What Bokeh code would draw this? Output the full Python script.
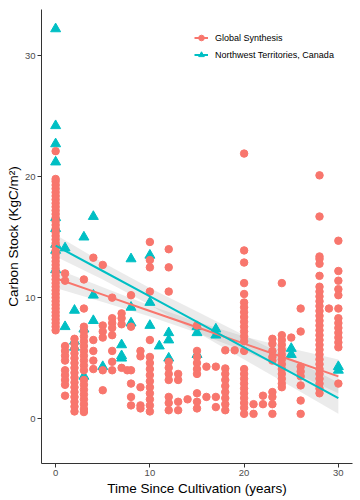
from bokeh.plotting import figure
from bokeh.models import Range1d, Legend, LegendItem, FixedTicker
from bokeh.embed import file_html
from bokeh.resources import INLINE

# ---------------- data ----------------
glob_x = ([0]*44 + [1]*11 + [2]*16 + [3]*20 + [4]*5 + [5]*6 + [6]*8 + [7]*4 + [7.6] +
          [8]*6 + [9]*5 + [10]*15 + [12]*10 + [13]*4 + [14] + [15]*9 + [16]*2 + [17]*3 +
          [18]*9 + [19] + [20]*25 + [21]*2 + [22]*2 + [23]*9 + [24]*13 + [25] + [26]*8 +
          [28]*29 + [29] + [30]*14)
glob_y = [
    # x=0
    7.3, 7.6, 7.9, 8.2, 8.5, 8.8, 9.1, 9.4, 9.7, 10.0, 10.3, 10.6, 10.9, 11.2, 11.5,
    11.8, 12.1, 12.4, 12.7, 13.0, 13.3, 13.6, 13.9, 14.2, 14.5, 14.8, 15.1, 15.4, 15.7,
    16.0, 16.3, 16.6, 16.9, 17.2, 17.5, 17.8, 18.1, 18.4, 18.7, 19.0, 19.3, 19.6, 19.8, 22.1,
    # x=1
    12.0, 11.4, 6.0, 5.6, 5.2, 4.8, 4.0, 3.6, 3.2, 2.8, 1.9,
    # x=2
    6.6, 6.2, 5.8, 5.4, 5.0, 4.6, 4.2, 3.8, 3.4, 3.0, 2.6, 2.2, 1.8, 1.4, 1.0, 0.6,
    # x=3
    11.5, 9.1, 7.6, 7.2, 6.8, 6.4, 6.0, 5.6, 5.2, 4.8, 4.4, 4.0, 3.2, 2.8, 2.4, 2.0,
    1.6, 1.2, 0.8, 0.55,
    # x=4
    13.3, 6.5, 5.6, 4.8, 4.1,
    # x=5
    12.7, 7.7, 7.2, 6.7, 4.0, 2.35,
    # x=6
    10.0, 8.3, 7.9, 7.5, 6.9, 5.6, 4.7, 4.0,
    # x=7, 7.6
    8.7, 8.3, 7.8, 4.2, 4.0,
    # x=8
    10.2, 7.6, 4.0, 2.9, 1.8, 1.1,
    # x=9
    5.6, 5.15, 2.6, 1.1, 0.85,
    # x=10
    14.6, 13.1, 12.5, 10.5, 6.5, 5.1, 4.6, 4.1, 3.6, 3.1, 2.6, 2.1, 1.6, 1.1, 0.6,
    # x=12
    14.0, 12.5, 10.5, 4.7, 4.2, 3.7, 3.2, 1.8, 1.3, 0.7,
    # x=13
    3.7, 3.2, 1.4, 0.7,
    # x=14
    1.6,
    # x=15
    7.7, 5.6, 5.1, 4.6, 4.1, 3.7, 2.1, 1.4, 0.85,
    # x=16
    4.3, 1.8,
    # x=17
    4.3, 1.8, 0.96,
    # x=18
    5.65, 4.15, 3.7, 3.2, 2.7, 2.2, 1.7, 1.2, 0.7,
    # x=19
    5.65,
    # x=20
    21.9, 13.9, 12.9, 11.2, 10.3, 9.6, 9.2, 8.8, 8.4, 8.0, 7.6, 7.2, 6.8, 6.4, 5.6,
    4.1, 3.7, 3.3, 2.9, 2.5, 2.1, 1.7, 1.3, 0.9, 0.4,
    # x=21
    1.2, 0.4,
    # x=22
    1.9, 1.2,
    # x=23
    6.6, 6.2, 5.6, 5.1, 4.8, 2.2, 1.8, 1.2, 0.4,
    # x=24
    11.2, 6.9, 6.5, 6.1, 5.7, 5.3, 4.9, 4.5, 4.1, 3.7, 3.3, 2.9, 2.6,
    # x=25
    6.7,
    # x=26
    9.1, 7.2, 4.3, 3.9, 3.5, 2.75, 1.5, 0.4,
    # x=28
    20.1, 16.7, 13.4, 13.2, 12.8, 11.8, 10.9, 10.5, 10.1, 9.7, 9.3, 8.9, 8.5, 8.1, 7.7,
    7.3, 6.9, 6.5, 6.1, 5.7, 5.3, 4.9, 4.5, 4.1, 3.7, 3.3, 2.9, 2.5, 2.1,
    # x=29
    9.1,
    # x=30
    14.7, 12.2, 11.4, 10.7, 9.1, 8.3, 7.9, 7.5, 7.1, 6.7, 6.3, 5.9, 2.9, 10.2,
]

nwt_x = [0, 0, 0, 0, 0, 0, 0, 0, 0, 1, 1, 2, 2, 2, 3, 3, 3, 4, 4, 4, 5, 7, 7, 7,
         8, 8, 8, 10, 10, 10, 11, 12, 12, 12, 15, 15, 15, 17, 17, 25, 25, 30, 30]
nwt_y = [32.2, 24.2, 22.7, 21.2, 16.6, 15.7, 14.4, 13.9, 12.3, 14.1, 7.6, 8.95, 6.4, 5.9,
         15.0, 7.4, 3.5, 16.7, 10.2, 8.1, 4.3, 6.1, 5.2, 5.0, 13.2, 9.2, 7.9, 13.5, 9.6,
         7.7, 6.0, 7.1, 6.5, 5.0, 7.6, 7.1, 5.3, 7.4, 6.9, 5.8, 5.3, 4.3, 4.0]

# fitted smooths
smooth_x = [0, 5, 10, 15, 20, 25, 30]
glob_fit = [11.6, 10.25, 8.9, 7.55, 6.2, 4.85, 3.5]
glob_hw = [0.8, 0.6, 0.45, 0.45, 0.6, 0.95, 1.4]
nwt_fit = [14.3, 12.2, 10.1, 8.0, 5.9, 3.8, 1.7]
nwt_hw = [0.9, 0.7, 0.7, 0.85, 1.0, 1.15, 1.3]

x_ticks = [0, 10, 20, 30]
y_ticks = [0, 10, 20, 30]
x_title = "Time Since Cultivation (years)"
y_title = "Carbon Stock (KgC/m²)"

RED = "#F8766D"
TEAL = "#00BFC4"
FONT = "Liberation Sans"

p = figure(width=360, height=500, output_backend="svg", toolbar_location=None,
           x_range=Range1d(-1.5, 31.5), y_range=Range1d(-3.7, 33.8),
           min_border_left=41, min_border_right=8, min_border_top=9, min_border_bottom=37)

p.xgrid.visible = False
p.ygrid.visible = False
p.outline_line_color = None

for ax in (p.xaxis[0], p.yaxis[0]):
    ax.axis_line_color = "#333333"
    ax.axis_line_width = 1
    ax.major_tick_line_color = "#333333"
    ax.major_tick_in = 0
    ax.major_tick_out = 4
    ax.minor_tick_line_color = None
    ax.major_label_text_font = FONT
    ax.major_label_text_font_size = "9.5px"
    ax.major_label_text_color = "#4D4D4D"
    ax.axis_label_text_font = FONT
    ax.axis_label_text_font_size = "13.5px"
    ax.axis_label_text_font_style = "normal"
    ax.axis_label_text_color = "#000000"

p.xaxis.major_label_standoff = 2
p.xaxis.axis_label_standoff = 2
p.yaxis.major_label_standoff = 2
p.yaxis.axis_label_standoff = 1
p.xaxis.ticker = FixedTicker(ticks=x_ticks)
p.yaxis.ticker = FixedTicker(ticks=y_ticks)
p.xaxis.axis_label = x_title
p.yaxis.axis_label = y_title

# confidence bands
p.varea(x=smooth_x, y1=[f - h for f, h in zip(glob_fit, glob_hw)],
        y2=[f + h for f, h in zip(glob_fit, glob_hw)], fill_color="#999999", fill_alpha=0.2)
p.varea(x=smooth_x, y1=[f - h for f, h in zip(nwt_fit, nwt_hw)],
        y2=[f + h for f, h in zip(nwt_fit, nwt_hw)], fill_color="#999999", fill_alpha=0.2)

# points
nwt_pts = p.scatter(nwt_x, nwt_y, marker="triangle", size=10, fill_color=TEAL, line_color=TEAL)
glob_pts = p.scatter(glob_x, glob_y, marker="circle", size=7.5, fill_color=RED, line_color=RED)

# fit lines
glob_line = p.line(smooth_x, glob_fit, line_color=RED, line_width=2)
nwt_line = p.line(smooth_x, nwt_fit, line_color=TEAL, line_width=2)

legend = Legend(items=[
    LegendItem(label="Global Synthesis", renderers=[glob_line, glob_pts]),
    LegendItem(label="Northwest Territories, Canada", renderers=[nwt_line, nwt_pts]),
], location=(153, 400))
legend.margin = 0
legend.padding = 0
legend.spacing = 0
legend.border_line_alpha = 0
legend.background_fill_alpha = 0
legend.glyph_width = 14
legend.glyph_height = 17
legend.label_height = 17
legend.label_standoff = 7
legend.label_text_font = FONT
legend.label_text_font_size = "9px"
legend.label_text_color = "#000000"
p.add_layout(legend, "center")

open("out.html", "w").write(file_html(p, INLINE))
